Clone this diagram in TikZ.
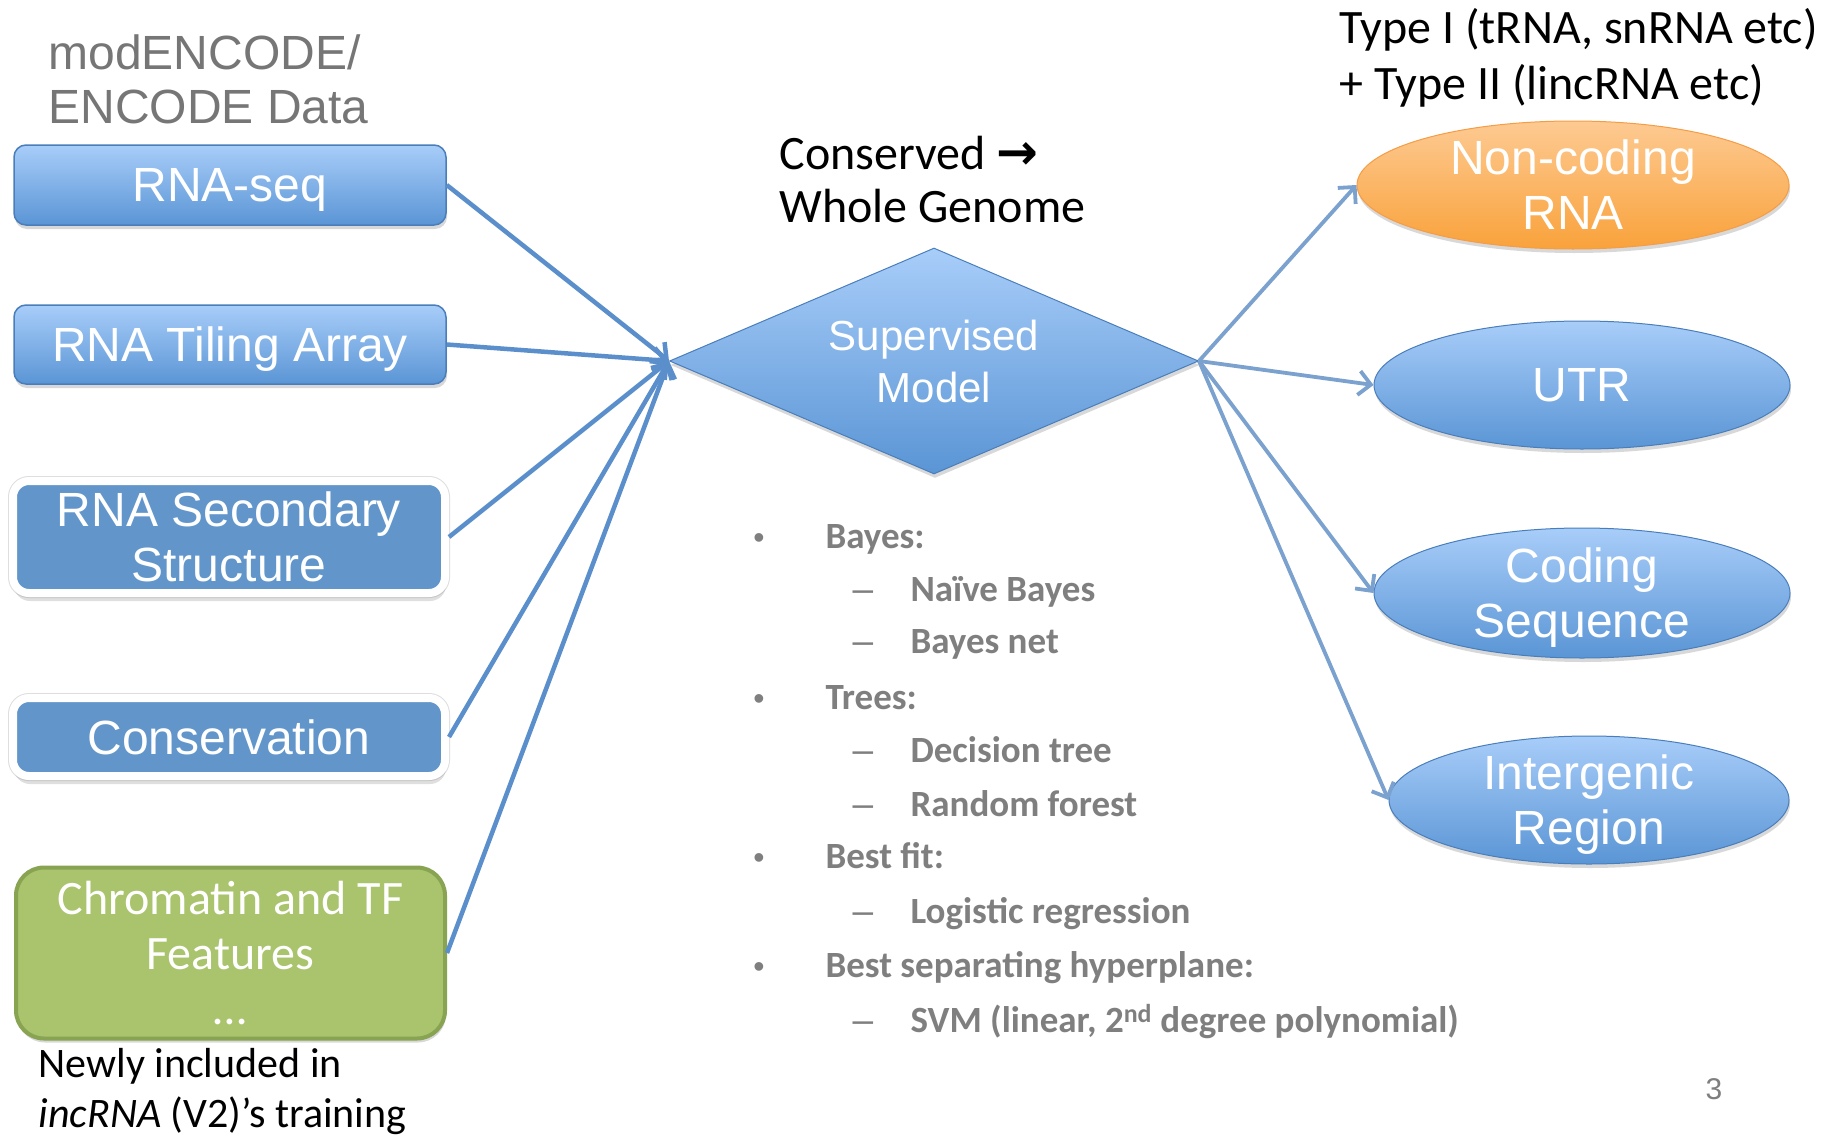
\documentclass[tikz,border=0pt]{standalone}
\usepackage{fontspec}
\setmainfont{Liberation Sans}
\newfontfamily\calfont{Carlito}
\newfontfamily\djfont{DejaVu Sans}
\usetikzlibrary{shapes.geometric,arrows.meta,shadows}
\definecolor{gtop}{HTML}{A8CDF9}
\definecolor{gbot}{HTML}{5A95D5}
\definecolor{gedge}{HTML}{4A7EBB}
\definecolor{flatblue}{HTML}{6296CB}
\definecolor{greenfill}{HTML}{A9C46C}
\definecolor{greenedge}{HTML}{88A452}
\definecolor{otop}{HTML}{FDCA92}
\definecolor{obot}{HTML}{F9A23B}
\definecolor{oedge}{HTML}{F59C45}
\definecolor{arrL}{HTML}{5B8FCC}
\definecolor{arrR}{HTML}{7BA1CF}
\definecolor{listgray}{HTML}{7F7F7F}
\definecolor{headgray}{HTML}{767676}
\begin{document}
\begin{tikzpicture}[x=1pt,y=-1pt,
  bigfont/.style={font=\fontsize{48}{55}\selectfont},
  shad/.style={drop shadow={shadow xshift=1pt,shadow yshift=-4pt,opacity=0.3}},
  gradbox/.style={rectangle,rounded corners=12pt,draw=gedge,line width=1.5pt,top color=gtop,bottom color=gbot,text=white,inner sep=0pt,align=center,shad,bigfont,text depth=0pt},
  flatbox/.style={rectangle,rounded corners=16pt,preaction={draw=black!13,line width=10pt},draw=white,line width=8pt,fill=flatblue,text=white,inner sep=0pt,align=center,drop shadow={shadow xshift=1pt,shadow yshift=-8pt,opacity=0.25},bigfont},
  greenbox/.style={rectangle,rounded corners=28pt,draw=greenedge,line width=4pt,fill=greenfill,text=white,inner sep=0pt,align=center,shad,font=\calfont\fontsize{48}{55}\selectfont},
  blueell/.style={ellipse,draw=gedge,line width=1pt,top color=gtop,bottom color=gbot,text=white,inner sep=0pt,align=center,shad,bigfont,text depth=0pt},
  orangeell/.style={ellipse,draw=oedge,line width=1pt,top color=otop,bottom color=obot,text=white,inner sep=0pt,align=center,shad,bigfont},
  calib/.style={anchor=base west,font=\calfont\fontsize{48}{56}\selectfont},
  lst/.style={anchor=base west,text=listgray,font=\calfont\bfseries\fontsize{37}{37}\selectfont},
  dsh/.style={anchor=base west,text=listgray,font=\fontsize{37}{37}\selectfont},
  bul/.style={anchor=base,text=listgray,font=\fontsize{32}{32}\selectfont},
  larrow/.style={draw=arrL,line width=4.5pt,-{Straight Barb[length=12pt,width=24pt]}},
  rarrow/.style={draw=arrR,line width=3.8pt,-{Straight Barb[length=12pt,width=24pt]}}
]
\useasboundingbox (0,0) rectangle (1825,1135);
\fill[white] (0,0) rectangle (1825,1135);

% header
\node[anchor=base west,text=headgray,bigfont] (hdr1) at (45,69) {modENCODE/};
\node[anchor=base west,text=headgray,bigfont] (hdr2) at (45,123) {ENCODE Data};

% left boxes
\node[gradbox,minimum width=432pt,minimum height=80pt] (rnaseq) at (230,185) {RNA-seq};
\node[gradbox,minimum width=432pt,minimum height=79pt] (tiling) at (230,344.5) {RNA Tiling Array};
\node[flatbox,minimum width=432pt,minimum height=112pt] (secst) at (229,537) {RNA Secondary\\Structure};
\node[flatbox,minimum width=432pt,minimum height=78pt] (cons) at (229,737) {Conservation};
\node[greenbox,minimum width=429pt,minimum height=171pt] (chrom) at (230.5,953) {Chromatin and TF\\Features\\\dots};

\node[calib,font=\calfont\fontsize{42}{50}\selectfont] (new1) at (35,1077) {Newly included in};
\node[calib,font=\calfont\fontsize{42}{50}\selectfont] (new2) at (35,1127) {\itshape incRNA\/\upshape{} (V2)’s training};

% centre
\node[calib] (cons1) at (776,169) {Conserved {\djfont\bfseries\fontsize{50}{50}\selectfont →}};
\node[calib] (cons2) at (776,222) {Whole Genome};
\node[diamond,aspect=2.34,minimum width=529pt,minimum height=226pt,inner sep=0pt,draw=gedge,line width=1pt,top color=gtop,bottom color=gbot,text=white,align=center,shad,font=\fontsize{42}{52}\selectfont] (sm) at (934,361) {Supervised\\Model};

% right
\node[calib] (type1) at (1336,43) {Type I (tRNA, snRNA etc)};
\node[calib] (type2) at (1336,99) {+ Type II (lincRNA etc)};
\node[orangeell,minimum width=432pt,minimum height=128pt] (nc) at (1573,185) {Non-coding\\RNA};
\node[blueell,minimum width=416pt,minimum height=128pt] (utr) at (1582,385) {UTR};
\node[blueell,minimum width=416pt,minimum height=130pt] (cds) at (1582,593) {Coding\\Sequence};
\node[blueell,minimum width=400pt,minimum height=128pt] (ig) at (1589,800) {Intergenic\\Region};

% arrows
\foreach \n in {rnaseq,tiling,secst,cons,chrom} \draw[larrow] (\n.east) -- (sm.west);
\foreach \n in {nc,utr,cds,ig} \draw[rarrow] (sm.east) -- (\n.west);

% list
\node[bul] (b1) at (759,548) {•};
\node[lst] (l1) at (822,548) {Bayes:};
\node[dsh] (d1) at (849,601) {–};
\node[lst] (l2) at (907,601) {Naïve Bayes};
\node[dsh] (d2) at (849,653) {–};
\node[lst] (l3) at (907,653) {Bayes net};
\node[bul] (b2) at (759,709) {•};
\node[lst] (l4) at (822,709) {Trees:};
\node[dsh] (d3) at (849,762) {–};
\node[lst] (l5) at (907,762) {Decision tree};
\node[dsh] (d4) at (849,816) {–};
\node[lst] (l6) at (907,816) {Random forest};
\node[bul] (b3) at (759,868) {•};
\node[lst] (l7) at (822,868) {Best fit:};
\node[dsh] (d5) at (849,923) {–};
\node[lst] (l8) at (907,923) {Logistic regression};
\node[bul] (b4) at (759,977) {•};
\node[lst] (l9) at (822,977) {Best separating hyperplane:};
\node[dsh] (d6) at (849,1032) {–};
\node[lst] (l10) at (907,1032) {SVM (linear, 2\textsuperscript{nd} degree polynomial)};

\node[anchor=base,text=listgray,font=\fontsize{30}{30}\selectfont] (pg) at (1714,1099) {3};
\end{tikzpicture}
\end{document}
